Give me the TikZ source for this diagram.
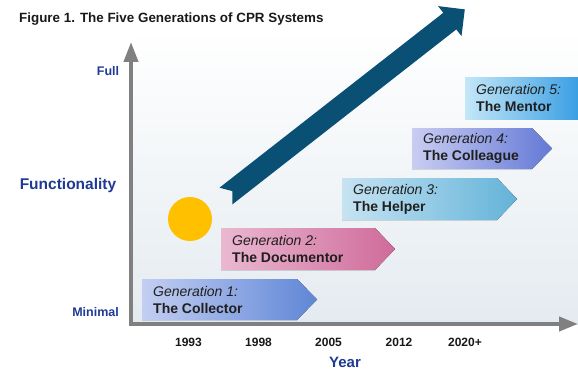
\documentclass[tikz,border=0pt]{standalone}
\usepackage{fontspec}
\setmainfont{Liberation Sans}
\usetikzlibrary{arrows.meta}
\definecolor{axisgrey}{HTML}{808080}
\definecolor{labelblue}{HTML}{1F3A93}
\definecolor{trend}{HTML}{0A5075}
\definecolor{sun}{HTML}{FFC000}
\definecolor{panelbottom}{HTML}{E4EBF0}
\definecolor{gaL}{HTML}{C3CEF2}\definecolor{gaR}{HTML}{5F86D6}
\definecolor{gbL}{HTML}{EAB8D1}\definecolor{gbR}{HTML}{CF6B9A}
\definecolor{gcL}{HTML}{C6E3F2}\definecolor{gcR}{HTML}{63B3D9}
\definecolor{gdL}{HTML}{CACDF2}\definecolor{gdR}{HTML}{6479D6}
\definecolor{geL}{HTML}{C4E7F8}\definecolor{geR}{HTML}{3A9FE3}
\begin{document}
\begin{tikzpicture}[x=1pt,y=-1pt,
  axis/.style={draw=axisgrey,line width=4pt,line join=miter,
    {Triangle[length=20pt,width=14pt]}-{Triangle[length=19pt,width=14pt]}},
  axislabel/.style={text=labelblue,inner sep=0pt,font=\fontsize{12.5}{15}\selectfont\bfseries},
  yearlabel/.style={inner sep=0pt,text=black!90,font=\fontsize{12}{14}\selectfont\bfseries},
  gentext/.style={anchor=west,align=left,inner sep=0pt,text=black!88,
    font=\fontsize{14}{17}\selectfont}
]
\useasboundingbox (0,0) rectangle (578,369);

% panel background
\fill[top color=white,bottom color=panelbottom] (131,30) rectangle (578,324);

% title
\node[anchor=west,inner sep=0pt,text=black!90,font=\fontsize{13.4}{16}\selectfont\bfseries]
  (title) at (19,19) {Figure 1. The Five Generations of CPR Systems};

% axes
\coordinate (ytop) at (131,42);
\coordinate (origin) at (131,324);
\coordinate (xend) at (578,324);
\draw[axis] (ytop) -- (origin) -- (xend);

% axis labels
\node[axislabel] (full) at (108,71) {Full};
\node[axislabel,font=\fontsize{15.5}{18}\selectfont\bfseries] (func) at (68,185) {Functionality};
\node[axislabel,anchor=east] (minimal) at (119,312) {Minimal};
\node[yearlabel] (y1993) at (188.5,342) {1993};
\node[yearlabel] (y1998) at (258.5,342) {1998};
\node[yearlabel] (y2005) at (328.5,342) {2005};
\node[yearlabel] (y2012) at (399,342) {2012};
\node[yearlabel] (y2020) at (465,342) {2020+};
\node[axislabel,font=\fontsize{15}{18}\selectfont\bfseries] (year) at (345,362) {Year};

% trend arrow with notched tail
\fill[trend] (232.3,191.1) -- (219.5,187.7) -- (443.3,12.8) -- (438.1,6.1)
  -- (464.8,9.4) -- (461.5,36.1) -- (456.3,29.4) -- (232.5,204.3) -- cycle;

% sun
\node[circle,fill=sun,minimum size=44pt,inner sep=0pt] (sun) at (190,219) {};

% generation chevrons
\fill[left color=gaL,right color=gaR] (142,279) -- (297,279) -- (317,299.5) -- (297,320) -- (142,320) -- cycle;
\fill[left color=gbL,right color=gbR] (221,228) -- (375,228) -- (395,249) -- (375,270) -- (221,270) -- cycle;
\fill[left color=gcL,right color=gcR] (342,178) -- (497,178) -- (517,199) -- (497,220) -- (342,220) -- cycle;
\fill[left color=gdL,right color=gdR] (412,128) -- (532,128) -- (552,148.5) -- (532,169) -- (412,169) -- cycle;
\fill[left color=geL,right color=geR] (465,77) rectangle (578,119);

\node[gentext] (gen1) at (153,299.5) {\textit{Generation 1:}\\\textbf{The Collector}};
\node[gentext] (gen2) at (232,249) {\textit{Generation 2:}\\\textbf{The Documentor}};
\node[gentext] (gen3) at (353,199) {\textit{Generation 3:}\\\textbf{The Helper}};
\node[gentext] (gen4) at (423,148.5) {\textit{Generation 4:}\\\textbf{The Colleague}};
\node[gentext] (gen5) at (476,98) {\textit{Generation 5:}\\\textbf{The Mentor}};
\end{tikzpicture}
\end{document}
